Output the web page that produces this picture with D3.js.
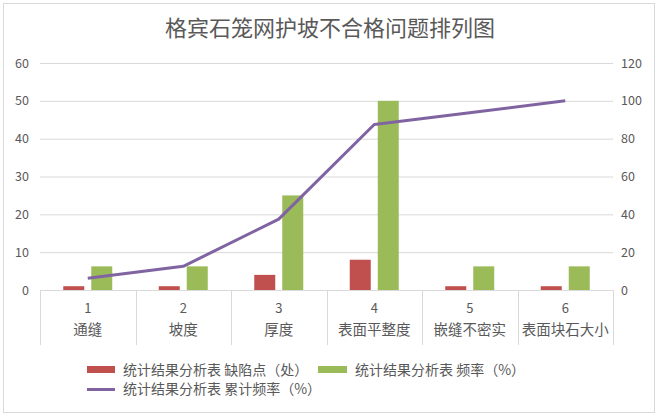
<!DOCTYPE html>
<html><head><meta charset="utf-8">
<script src="https://cdn.jsdelivr.net/npm/d3@7"></script>
<style>body{margin:0;background:#fff}svg{display:block}text{font-family:"Noto Sans CJK SC","Microsoft YaHei",sans-serif}</style>
</head><body>
<svg id="c" width="661" height="417"></svg>
<script>
const title = "格宾石笼网护坡不合格问题排列图";
const indices = ["1","2","3","4","5","6"];
const categories = ["通缝","坡度","厚度","表面平整度","嵌缝不密实","表面块石大小"];
const defects = [1,1,4,8,1,1];
const frequency = [6.25,6.25,25,50,6.25,6.25];
const cumulative = [6.25,12.5,37.5,87.5,93.75,100];
const leftTicks = [0,10,20,30,40,50,60];
const rightTicks = [0,20,40,60,80,100,120];
const seriesNames = ["统计结果分析表 缺陷点（处）","统计结果分析表 频率（%）","统计结果分析表 累计频率（%）"];

const svg = d3.select("#c");
const txt="#595959", grid="#d9d9d9";
const cRed="#C0504D", cGreen="#9BBB59", cPurple="#8064A2";

svg.append("rect").attr("x",3.5).attr("y",3.5).attr("width",651).attr("height",409)
  .attr("fill","#fff").attr("stroke","#d9d9d9");

svg.append("text").attr("x",330).attr("y",36).attr("text-anchor","middle")
  .attr("font-size",22).attr("fill",txt).text(title);

const L=40,R=613,T=63,B=290;
const x = d3.scaleBand().domain(indices).range([L,R]);
const yL = d3.scaleLinear().domain([0,60]).range([B,T]);
const yR = d3.scaleLinear().domain([0,120]).range([B,T]);

svg.append("g").selectAll("line").data(leftTicks.filter(d=>d>0)).join("line")
  .attr("x1",L).attr("x2",R).attr("y1",d=>yL(d)+0.5).attr("y2",d=>yL(d)+0.5)
  .attr("stroke",grid);

svg.append("g").selectAll("text").data(leftTicks).join("text")
  .attr("x",29).attr("y",d=>yL(d)+4.5).attr("text-anchor","end")
  .attr("font-size",12.5).attr("fill",txt).text(d=>d);
svg.append("g").selectAll("text").data(rightTicks).join("text")
  .attr("x",621).attr("y",d=>yR(d)+4.5).attr("text-anchor","start")
  .attr("font-size",12.5).attr("fill",txt).text(d=>d);

const bw = x.bandwidth();
svg.append("line").attr("x1",L).attr("x2",R).attr("y1",B+0.5).attr("y2",B+0.5).attr("stroke",grid);
svg.append("g").selectAll("line").data(indices.concat(["end"])).join("line")
  .attr("x1",(d,i)=>Math.round(L+i*bw)+0.5).attr("x2",(d,i)=>Math.round(L+i*bw)+0.5)
  .attr("y1",B).attr("y2",345).attr("stroke",grid);
svg.append("g").selectAll("text").data(indices).join("text")
  .attr("x",d=>x(d)+bw/2).attr("y",313).attr("text-anchor","middle")
  .attr("font-size",13).attr("fill",txt).text(d=>d);
svg.append("g").selectAll("text").data(categories).join("text")
  .attr("x",(d,i)=>x(indices[i])+bw/2).attr("y",335).attr("text-anchor","middle")
  .attr("font-size",14.5).attr("fill",txt).text(d=>d);

const barW=21, off=14;
svg.append("g").selectAll("rect").data(defects).join("rect")
  .attr("x",(d,i)=>x(indices[i])+bw/2-off-barW/2).attr("width",barW)
  .attr("y",d=>yL(d)).attr("height",d=>B-yL(d)).attr("fill",cRed);
svg.append("g").selectAll("rect").data(frequency).join("rect")
  .attr("x",(d,i)=>x(indices[i])+bw/2+off-barW/2).attr("width",barW)
  .attr("y",d=>yL(d)).attr("height",d=>B-yL(d)).attr("fill",cGreen);

const line = d3.line().x((d,i)=>x(indices[i])+bw/2).y(d=>yR(d));
svg.append("path").datum(cumulative).attr("d",line).attr("fill","none")
  .attr("stroke",cPurple).attr("stroke-width",3).attr("stroke-linejoin","round");

const lg = svg.append("g");
lg.append("rect").attr("x",87).attr("y",366).attr("width",28).attr("height",7).attr("fill",cRed);
lg.append("text").attr("x",123).attr("y",375).attr("font-size",14).attr("fill",txt).text(seriesNames[0]);
lg.append("rect").attr("x",318).attr("y",366).attr("width",29).attr("height",7).attr("fill",cGreen);
lg.append("text").attr("x",355).attr("y",375).attr("font-size",14).attr("fill",txt).text(seriesNames[1]);
lg.append("line").attr("x1",87).attr("x2",115).attr("y1",389.5).attr("y2",389.5).attr("stroke",cPurple).attr("stroke-width",3);
lg.append("text").attr("x",123).attr("y",394).attr("font-size",14).attr("fill",txt).text(seriesNames[2]);
</script>
</body></html>
